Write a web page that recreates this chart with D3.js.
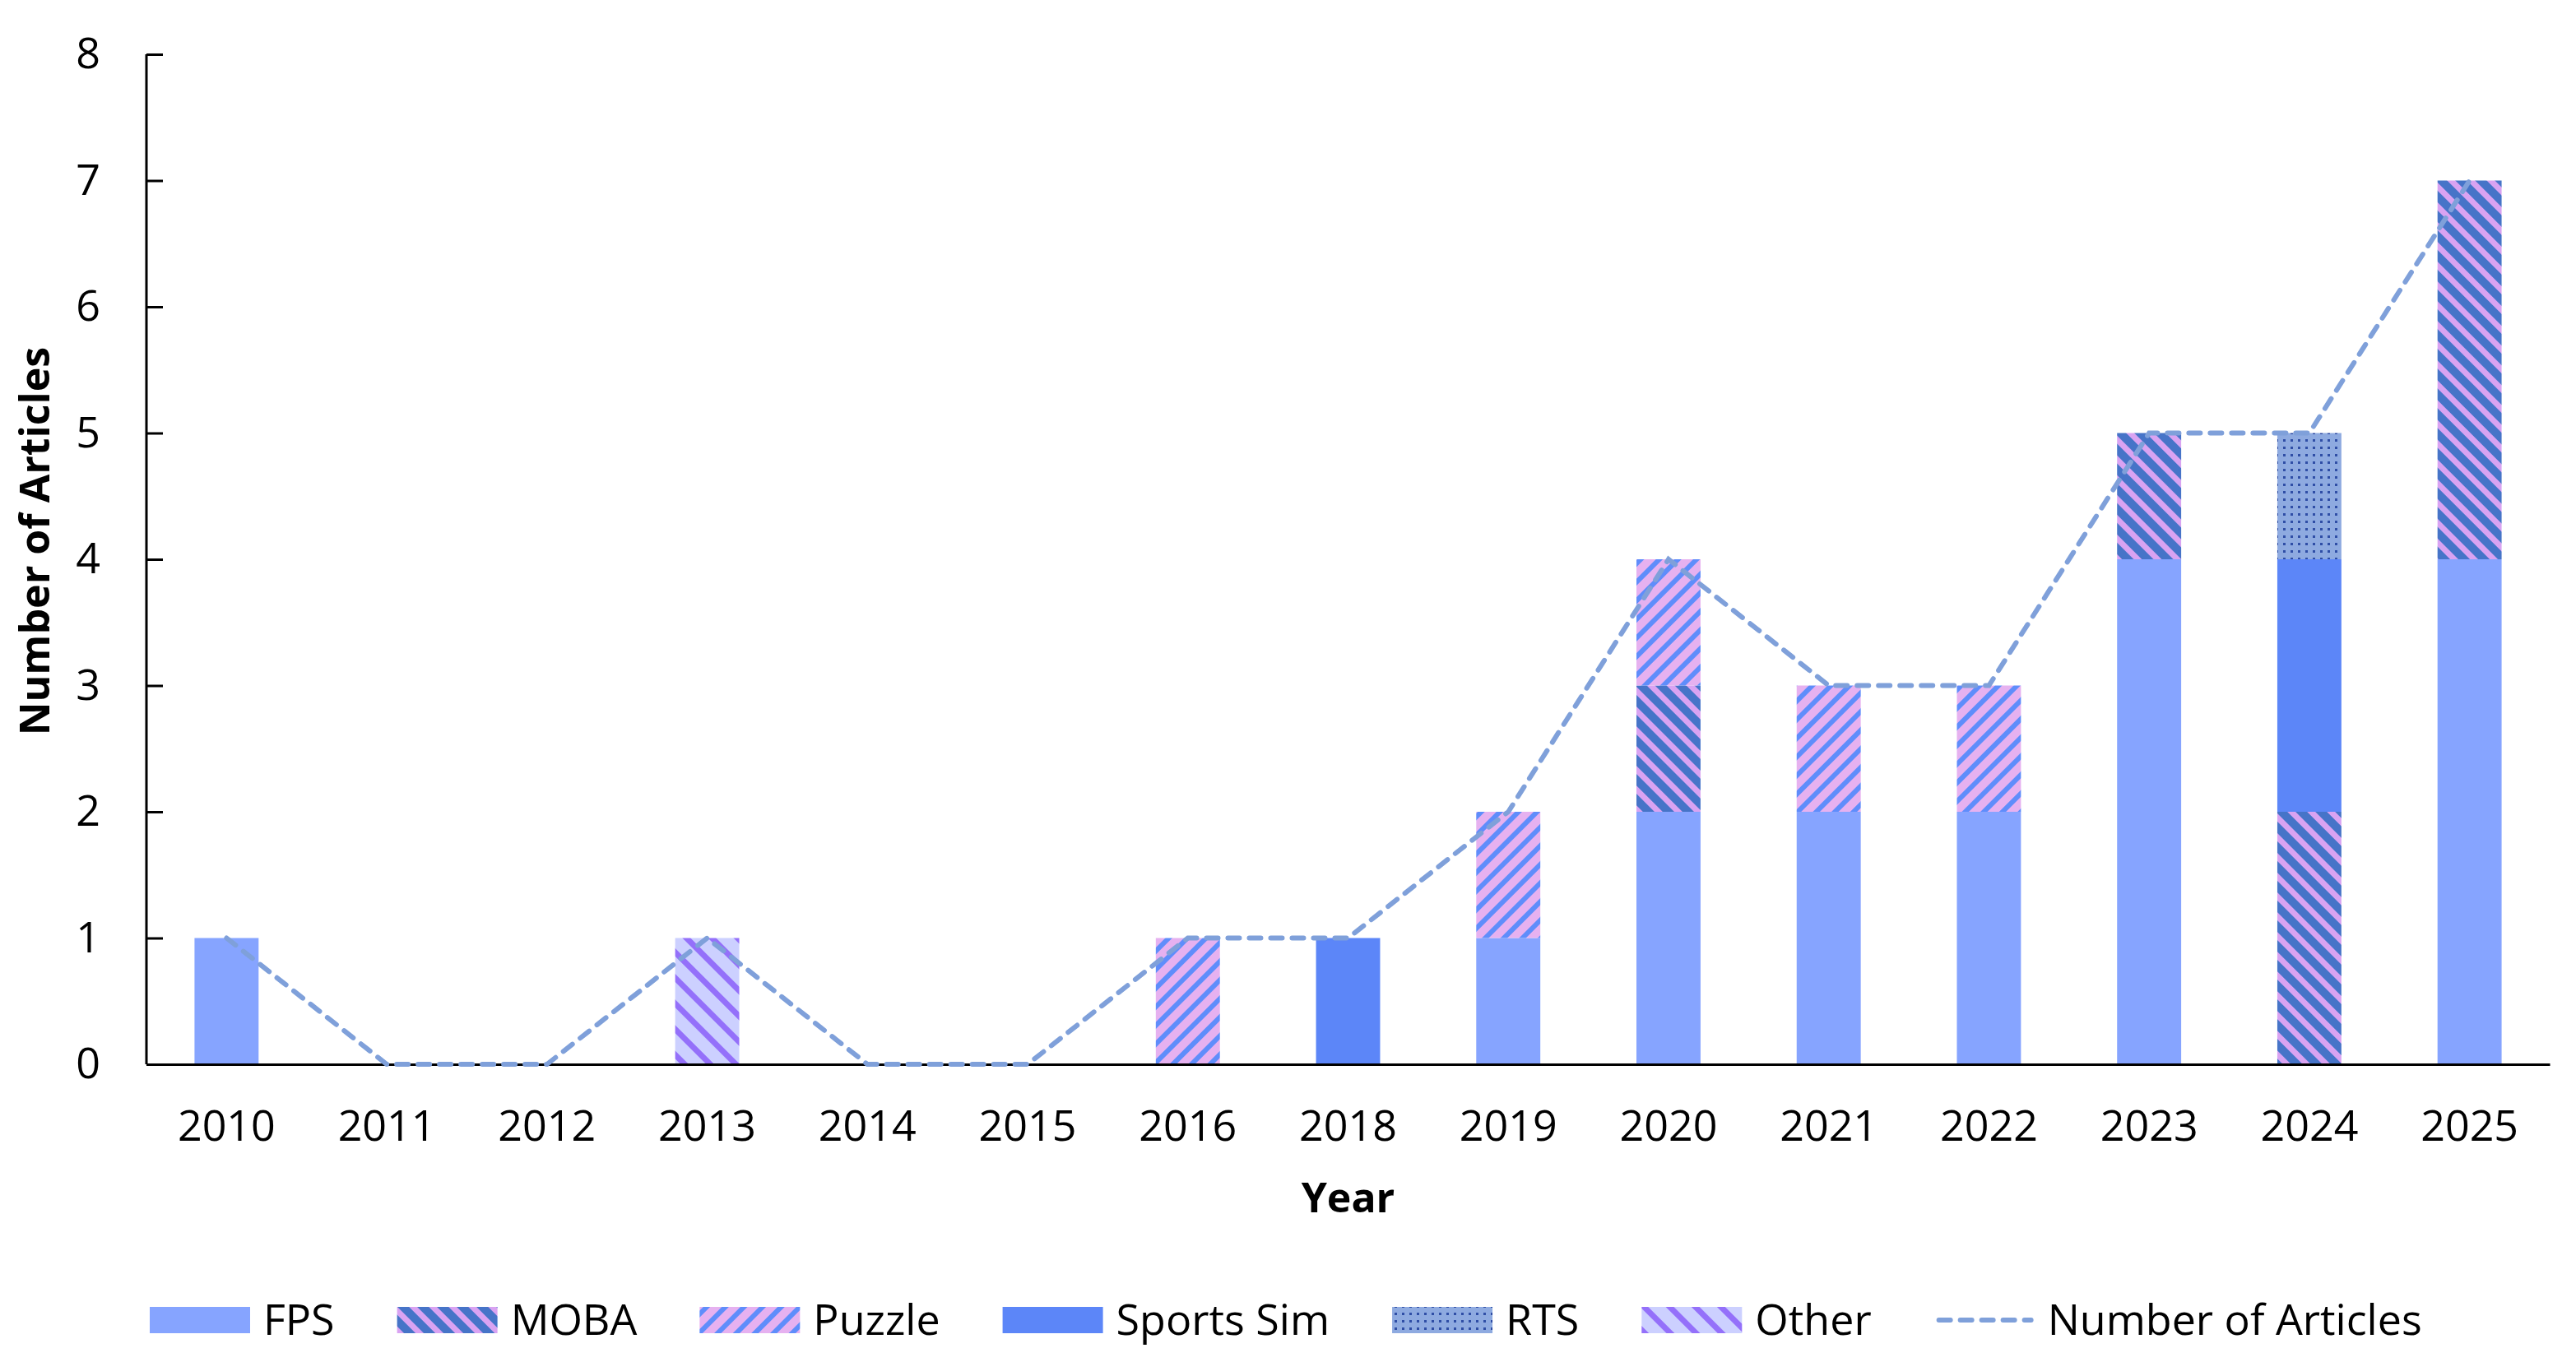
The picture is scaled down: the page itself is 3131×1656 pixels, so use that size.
<!DOCTYPE html>
<html>
<head>
<meta charset="utf-8">
<script src="https://cdn.jsdelivr.net/npm/d3@7/dist/d3.min.js"></script>
<style>
  body { margin: 0; background: #fff; }
  text { font-family: "Open Sans", "Noto Sans", sans-serif; fill: #000; }
</style>
</head>
<body>
<svg id="svg" width="3131" height="1656"></svg>
<script>
// データ
const years = ["2010", "2011", "2012", "2013", "2014", "2015", "2016", "2018", "2019", "2020", "2021", "2022", "2023", "2024", "2025"];
const fps =       [1, 0, 0, 0, 0, 0, 0, 0, 1, 2, 2, 2, 4, 0, 4];
const moba =      [0, 0, 0, 0, 0, 0, 0, 0, 0, 1, 0, 0, 1, 2, 3];
const puzzle =    [0, 0, 0, 0, 0, 0, 1, 0, 1, 1, 1, 1, 0, 0, 0];
const sportsSim = [0, 0, 0, 0, 0, 0, 0, 1, 0, 0, 0, 0, 0, 2, 0];
const rts =       [0, 0, 0, 0, 0, 0, 0, 0, 0, 0, 0, 0, 0, 1, 0];
const other =     [0, 0, 0, 1, 0, 0, 0, 0, 0, 0, 0, 0, 0, 0, 0];
const articles =  [1, 0, 0, 1, 0, 0, 1, 1, 2, 4, 3, 3, 5, 5, 7];
const seriesNames = ["FPS", "MOBA", "Puzzle", "Sports Sim", "RTS", "Other"];
const yTicks = [0, 1, 2, 3, 4, 5, 6, 7, 8];

const svg = d3.select("#svg");
const margin = { left: 178, right: 32, top: 66, bottom: 362 };
const W = 3131, H = 1656;

// 模様の定義
const defs = svg.append("defs");
function stripes(id, bg, fg, w, stripeW, angle) {
  const p = defs.append("pattern")
    .attr("id", id)
    .attr("patternUnits", "userSpaceOnUse")
    .attr("width", w)
    .attr("height", w)
    .attr("patternTransform", `rotate(${angle})`);
  p.append("rect").attr("width", w).attr("height", w).attr("fill", bg);
  p.append("rect").attr("width", stripeW).attr("height", w).attr("fill", fg);
}
stripes("pMoba", "#d9a3f2", "#4674c8", 17, 10, -45);
stripes("pPuzzle", "#e6b1f0", "#5f8dfb", 16, 6, 45);
stripes("pOther", "#ccd0ff", "#9470fa", 22, 7, -45);
const dots = defs.append("pattern")
  .attr("id", "pRts")
  .attr("patternUnits", "userSpaceOnUse")
  .attr("width", 9)
  .attr("height", 9);
dots.append("rect").attr("width", 9).attr("height", 9).attr("fill", "#8eaae0");
dots.append("rect").attr("x", 3).attr("y", 3).attr("width", 3).attr("height", 3).attr("fill", "#2f4ea6");

const fills = {
  "FPS": "#86a4ff",
  "MOBA": "url(#pMoba)",
  "Puzzle": "url(#pPuzzle)",
  "Sports Sim": "#5c86f8",
  "RTS": "url(#pRts)",
  "Other": "url(#pOther)"
};

// スケール
const x = d3.scaleBand()
  .domain(years)
  .range([margin.left, W - margin.right])
  .paddingInner(0.6)
  .paddingOuter(0.3);
const y = d3.scaleLinear()
  .domain([0, 8])
  .range([H - margin.bottom, margin.top]);

// 積み上げ
const table = years.map((yr, i) => ({
  year: yr,
  "FPS": fps[i],
  "MOBA": moba[i],
  "Puzzle": puzzle[i],
  "Sports Sim": sportsSim[i],
  "RTS": rts[i],
  "Other": other[i]
}));
const stacked = d3.stack().keys(seriesNames)(table);

svg.append("g")
  .selectAll("g")
  .data(stacked)
  .join("g")
  .attr("fill", d => fills[d.key])
  .selectAll("rect")
  .data(d => d.filter(s => s[1] - s[0] > 0))
  .join("rect")
  .attr("x", d => x(d.data.year))
  .attr("y", d => y(d[1]))
  .attr("width", x.bandwidth())
  .attr("height", d => y(d[0]) - y(d[1]));

// 軸
const yAxis = svg.append("g")
  .attr("transform", `translate(${margin.left},0)`)
  .call(d3.axisLeft(y).tickValues(yTicks).tickSize(-20).tickPadding(56));
yAxis.select(".domain").attr("stroke", "#000").attr("stroke-width", 3).attr("d", `M0,${y(8)}V${y(0)}`);
yAxis.selectAll(".tick line").attr("stroke", "#000").attr("stroke-width", 3);
yAxis.selectAll("text").attr("font-size", 52).attr("font-family", "Open Sans").attr("fill", "#000");

const xAxis = svg.append("g")
  .attr("transform", `translate(0,${y(0)})`)
  .call(d3.axisBottom(x).tickSize(0).tickPadding(56));
xAxis.select(".domain").attr("stroke", "#000").attr("stroke-width", 3);
xAxis.selectAll("text").attr("font-size", 52).attr("font-family", "Open Sans").attr("fill", "#000");

// 折れ線
const lineColor = "#7fa0da";
const line = d3.line()
  .x((d, i) => x(years[i]) + x.bandwidth() / 2)
  .y(d => y(d));
svg.append("path")
  .datum(articles)
  .attr("d", line)
  .attr("fill", "none")
  .attr("stroke", lineColor)
  .attr("stroke-width", 6)
  .attr("stroke-dasharray", "14 12")
  .attr("stroke-linecap", "round");

// 軸タイトル
svg.append("text")
  .attr("x", (margin.left + W - margin.right) / 2)
  .attr("y", 1474)
  .attr("text-anchor", "middle")
  .attr("font-size", 50)
  .attr("font-weight", "bold")
  .text("Year");
svg.append("text")
  .attr("transform", `translate(60,${(y(0) + y(8)) / 2 - 22}) rotate(-90)`)
  .attr("text-anchor", "middle")
  .attr("font-size", 50)
  .attr("font-weight", "bold")
  .text("Number of Articles");

// 凡例
const legendItems = seriesNames.concat(["Number of Articles"]);
const legend = svg.append("g");
let lx = 182;
const ly = 1605;
legendItems.forEach(name => {
  const g = legend.append("g");
  if (name === "Number of Articles") {
    g.append("line")
      .attr("x1", lx + 6).attr("x2", lx + 118)
      .attr("y1", ly).attr("y2", ly)
      .attr("stroke", lineColor)
      .attr("stroke-width", 6)
      .attr("stroke-dasharray", "14 12")
      .attr("stroke-linecap", "round");
  } else {
    g.append("rect")
      .attr("x", lx).attr("y", ly - 16)
      .attr("width", 122).attr("height", 32)
      .attr("fill", fills[name]);
  }
  const t = g.append("text")
    .attr("x", lx + 138)
    .attr("y", ly)
    .attr("dy", "0.35em")
    .attr("font-size", 52)
    .text(name);
  lx += 138 + t.node().getComputedTextLength() + 76;
});
</script>
</body>
</html>
